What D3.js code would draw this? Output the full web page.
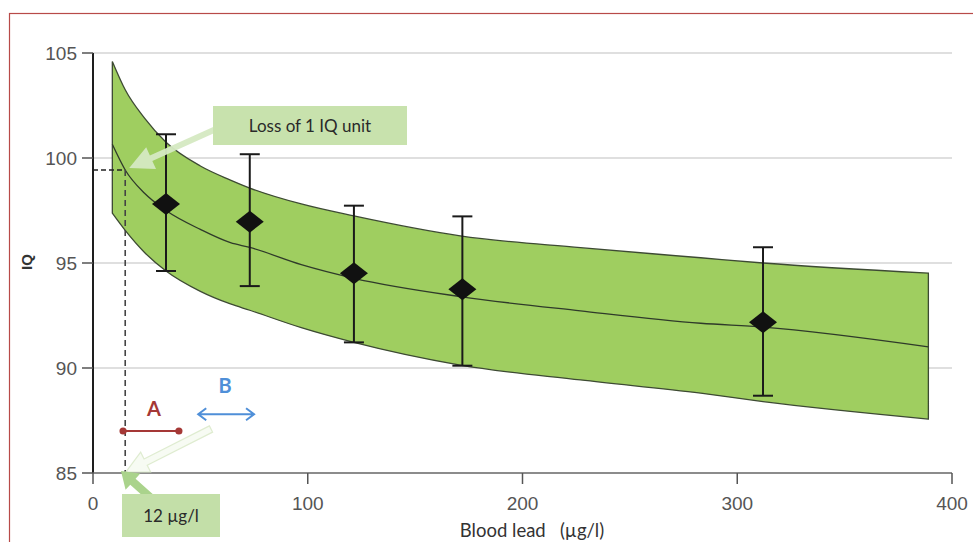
<!DOCTYPE html>
<html>
<head>
<meta charset="utf-8">
<script src="https://cdn.jsdelivr.net/npm/d3@7"></script>
<style>
  html, body { margin: 0; padding: 0; background: #fff; overflow: hidden; }
  svg { display: block; }
</style>
</head>
<body>
<script>
var bandLead   = [9, 15, 24, 34, 50, 64, 73, 97, 121.5, 171, 227, 283, 312, 389];
var bandUpper  = [104.6, 103.25, 101.9, 100.75, 99.62, 98.95, 98.57, 97.81, 97.24, 96.29, 95.73, 95.25, 95.0, 94.52];
var bandCenter = [100.65, 99.43, 98.32, 97.5, 96.6, 95.97, 95.74, 94.92, 94.27, 93.4, 92.72, 92.13, 91.95, 91.01];
var bandLower  = [97.37, 96.55, 95.5, 94.62, 93.65, 93.05, 92.75, 91.92, 91.22, 90.14, 89.43, 88.8, 88.4, 87.57];

// group means with error bars
var groupLead = [34, 73, 121.5, 172, 312];
var groupMean = [97.81, 96.97, 94.51, 93.75, 92.18];
var groupLow  = [94.62, 93.9, 91.22, 90.11, 88.68];
var groupHigh = [101.13, 100.18, 97.73, 97.22, 95.75];

var xTicks = [0, 100, 200, 300, 400];
var yTicks = [85, 90, 95, 100, 105];

// threshold read at the dashed lines
var thresholdLead = 15;
var thresholdIQ = 99.43;
var rangeA = [14, 40], rangeAIQ = 87.0;
var rangeB = [49, 75], rangeBIQ = 87.8;

var W = 973, H = 542;
var svg = d3.select("body").append("svg").attr("width", W).attr("height", H);

var x = d3.scaleLinear().domain([0, 400]).range([93, 952]);
var y = d3.scaleLinear().domain([85, 105]).range([473, 53]);

// frame
svg.append("rect")
    .attr("x", 9.5).attr("y", 13.5)
    .attr("width", 1000).attr("height", 600)
    .attr("fill", "none")
    .attr("stroke", "#b84a48")
    .attr("stroke-width", 1.2);

// gridlines
svg.append("g").selectAll("line")
    .data(yTicks.filter(function(d) { return d > 85; }))
    .join("line")
    .attr("x1", x(0)).attr("x2", x(400))
    .attr("y1", function(d) { return y(d); })
    .attr("y2", function(d) { return y(d); })
    .attr("stroke", "#d4d4d4")
    .attr("stroke-width", 1.5);

// band
var bandData = bandLead.map(function(d, i) {
    return {lead: d, up: bandUpper[i], mid: bandCenter[i], lo: bandLower[i]};
});
var curve = d3.curveMonotoneX;
var area = d3.area()
    .x(function(d) { return x(d.lead); })
    .y0(function(d) { return y(d.lo); })
    .y1(function(d) { return y(d.up); })
    .curve(curve);
svg.append("path")
    .datum(bandData)
    .attr("d", area)
    .attr("fill", "#9fce60")
    .attr("stroke", "#3d4a33")
    .attr("stroke-width", 1.3);
svg.append("path")
    .datum(bandData)
    .attr("d", d3.line()
        .x(function(d) { return x(d.lead); })
        .y(function(d) { return y(d.mid); })
        .curve(curve))
    .attr("fill", "none")
    .attr("stroke", "#2f3a2a")
    .attr("stroke-width", 1.3);

// dashed threshold lines
svg.append("line")
    .attr("x1", x(0)).attr("x2", x(thresholdLead))
    .attr("y1", y(thresholdIQ)).attr("y2", y(thresholdIQ))
    .attr("stroke", "#222").attr("stroke-width", 1.6)
    .attr("stroke-dasharray", "5,3");
svg.append("line")
    .attr("x1", x(thresholdLead)).attr("x2", x(thresholdLead))
    .attr("y1", y(thresholdIQ)).attr("y2", y(85))
    .attr("stroke", "#444").attr("stroke-width", 1.6)
    .attr("stroke-dasharray", "6,4");

// error bars
var groups = groupLead.map(function(d, i) {
    return {lead: d, mean: groupMean[i], lo: groupLow[i], hi: groupHigh[i]};
});
var eb = svg.append("g").selectAll("g").data(groups).join("g");
eb.append("line")
    .attr("x1", function(d) { return x(d.lead); })
    .attr("x2", function(d) { return x(d.lead); })
    .attr("y1", function(d) { return y(d.lo); })
    .attr("y2", function(d) { return y(d.hi); })
    .attr("stroke", "#1a1a1a").attr("stroke-width", 2);
["lo", "hi"].forEach(function(k) {
    eb.append("line")
        .attr("x1", function(d) { return x(d.lead) - 10; })
        .attr("x2", function(d) { return x(d.lead) + 10; })
        .attr("y1", function(d) { return y(d[k]); })
        .attr("y2", function(d) { return y(d[k]); })
        .attr("stroke", "#1a1a1a").attr("stroke-width", 2);
});
eb.append("path")
    .attr("d", function(d) {
        var cx = x(d.lead), cy = y(d.mean);
        return "M" + (cx - 14) + "," + cy + "L" + cx + "," + (cy - 11) +
               "L" + (cx + 14) + "," + cy + "L" + cx + "," + (cy + 11) + "Z";
    })
    .attr("fill", "#111");

// axes
var yAxis = svg.append("g");
yAxis.append("line")
    .attr("x1", x(0)).attr("x2", x(0))
    .attr("y1", y(105)).attr("y2", y(85))
    .attr("stroke", "#1e1e1e").attr("stroke-width", 2);
yAxis.selectAll("line.tick").data(yTicks).join("line")
    .attr("class", "tick")
    .attr("x1", x(0) - 11).attr("x2", x(0))
    .attr("y1", function(d) { return y(d); })
    .attr("y2", function(d) { return y(d); })
    .attr("stroke", "#555").attr("stroke-width", 1.5);
yAxis.selectAll("text").data(yTicks).join("text")
    .attr("x", x(0) - 16)
    .attr("y", function(d) { return y(d); })
    .attr("dy", "0.35em")
    .attr("text-anchor", "end")
    .attr("font-family", "Liberation Sans, Arial, sans-serif")
    .attr("font-size", 19)
    .attr("fill", "#555")
    .text(function(d) { return d; });

var xAxis = svg.append("g");
xAxis.append("line")
    .attr("x1", x(0)).attr("x2", x(400))
    .attr("y1", y(85)).attr("y2", y(85))
    .attr("stroke", "#666").attr("stroke-width", 1.5);
xAxis.selectAll("line.tick").data(xTicks).join("line")
    .attr("class", "tick")
    .attr("x1", function(d) { return x(d); })
    .attr("x2", function(d) { return x(d); })
    .attr("y1", y(85)).attr("y2", y(85) + 11)
    .attr("stroke", "#555").attr("stroke-width", 1.5);
xAxis.selectAll("text").data(xTicks).join("text")
    .attr("x", function(d) { return x(d); })
    .attr("y", 510)
    .attr("text-anchor", "middle")
    .attr("font-family", "Liberation Sans, Arial, sans-serif")
    .attr("font-size", 19)
    .attr("fill", "#555")
    .text(function(d) { return d; });

svg.append("text")
    .attr("transform", "translate(32,262) rotate(-90)")
    .attr("text-anchor", "middle")
    .attr("font-family", "Liberation Sans, Arial, sans-serif")
    .attr("font-weight", "bold")
    .attr("font-size", 15)
    .attr("fill", "#333")
    .text("IQ");
svg.append("text")
    .attr("x", 532).attr("y", 537)
    .attr("text-anchor", "middle")
    .attr("font-family", "Lato, Open Sans, sans-serif")
    .attr("font-size", 18.5)
    .attr("fill", "#333")
    .attr("xml:space", "preserve")
    .text("Blood lead   (\u00b5g/l)");

// arrow helper: shaft + head polygon
function arrow(x1, y1, x2, y2, shaft, headLen, headW) {
    var dx = x2 - x1, dy = y2 - y1, len = Math.sqrt(dx * dx + dy * dy);
    var ux = dx / len, uy = dy / len, px = -uy, py = ux;
    var bx = x2 - ux * headLen, by = y2 - uy * headLen;
    var pts = [
        [x1 + px * shaft / 2, y1 + py * shaft / 2],
        [bx + px * shaft / 2, by + py * shaft / 2],
        [bx + px * headW / 2, by + py * headW / 2],
        [x2, y2],
        [bx - px * headW / 2, by - py * headW / 2],
        [bx - px * shaft / 2, by - py * shaft / 2],
        [x1 - px * shaft / 2, y1 - py * shaft / 2]
    ];
    return "M" + pts.map(function(p) { return p.join(","); }).join("L") + "Z";
}

// faint arrow from B
svg.append("path")
    .attr("d", arrow(211, 429, 126, 472, 7, 22, 22))
    .attr("fill", "#f7fbf2")
    .attr("stroke", "#dcebcc")
    .attr("stroke-width", 1.2)
    .attr("opacity", 0.9);

// A range
svg.append("line")
    .attr("x1", x(rangeA[0])).attr("x2", x(rangeA[1]))
    .attr("y1", y(rangeAIQ)).attr("y2", y(rangeAIQ))
    .attr("stroke", "#a53836").attr("stroke-width", 2);
svg.append("g").selectAll("circle").data(rangeA).join("circle")
    .attr("cx", function(d) { return x(d); })
    .attr("cy", y(rangeAIQ))
    .attr("r", 3.6)
    .attr("fill", "#a53836");
svg.append("text")
    .attr("x", 154).attr("y", 416)
    .attr("text-anchor", "middle")
    .attr("font-family", "Lato, Open Sans, sans-serif")
    .attr("font-weight", "bold")
    .attr("font-size", 20)
    .attr("fill", "#a53836")
    .text("A");

// B range
var bx0 = x(rangeB[0]), bx1 = x(rangeB[1]), by = y(rangeBIQ);
svg.append("path")
    .attr("d", "M" + bx0 + "," + by + "L" + bx1 + "," + by +
        "M" + (bx0 + 8) + "," + (by - 6) + "L" + bx0 + "," + by + "L" + (bx0 + 8) + "," + (by + 6) +
        "M" + (bx1 - 8) + "," + (by - 6) + "L" + bx1 + "," + by + "L" + (bx1 - 8) + "," + (by + 6))
    .attr("fill", "none")
    .attr("stroke", "#4f8fd8")
    .attr("stroke-width", 2);
svg.append("text")
    .attr("x", 225).attr("y", 393)
    .attr("text-anchor", "middle")
    .attr("font-family", "Lato, Open Sans, sans-serif")
    .attr("font-weight", "bold")
    .attr("font-size", 20)
    .attr("fill", "#4f8fd8")
    .text("B");

// "Loss of 1 IQ unit" callout
svg.append("path")
    .attr("d", arrow(216, 129, x(thresholdLead) + 4, y(thresholdIQ) - 2, 6, 24, 24))
    .attr("fill", "#d5e9c2")
    .attr("opacity", 0.95);
svg.append("rect")
    .attr("x", 213).attr("y", 106)
    .attr("width", 194).attr("height", 39)
    .attr("fill", "#c8e2ad");
svg.append("text")
    .attr("x", 310).attr("y", 126)
    .attr("dy", "0.35em")
    .attr("text-anchor", "middle")
    .attr("font-family", "Lato, Open Sans, sans-serif")
    .attr("font-size", 17)
    .attr("fill", "#2a2a2a")
    .text("Loss of 1 IQ unit");

// "12 µg/l" callout
svg.append("path")
    .attr("d", arrow(150, 497, 121, 471, 8, 16, 22))
    .attr("fill", "#aad38c");
svg.append("rect")
    .attr("x", 122).attr("y", 494)
    .attr("width", 98).attr("height", 43)
    .attr("fill", "#c3dfa8");
svg.append("text")
    .attr("x", 171).attr("y", 516)
    .attr("dy", "0.35em")
    .attr("text-anchor", "middle")
    .attr("font-family", "Lato, Open Sans, sans-serif")
    .attr("font-size", 17)
    .attr("fill", "#2a2a2a")
    .text("12 \u00b5g/l");
</script>
</body>
</html>
